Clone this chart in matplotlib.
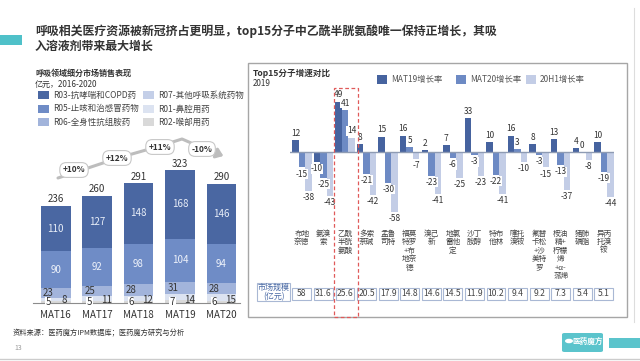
import matplotlib
matplotlib.use('Agg')
import matplotlib.pyplot as plt
import matplotlib.transforms as mtransforms
from matplotlib.patches import Rectangle, FancyBboxPatch
from matplotlib.lines import Line2D
import numpy as np

plt.rcParams['font.family'] = ['Noto Sans CJK SC', 'DejaVu Sans']
plt.rcParams['axes.unicode_minus'] = False

# 左图：呼吸领域细分市场（亿元）
periods = ['MAT16', 'MAT17', 'MAT18', 'MAT19', 'MAT20']
totals = [236, 260, 291, 323, 290]
r03 = [110, 127, 148, 168, 146]
r05 = [90, 92, 98, 104, 94]
r06 = [23, 25, 28, 31, 28]
r07 = [0, 0, 0, 0, 0]
r01 = [8, 11, 12, 14, 15]
r02 = [5, 5, 6, 7, 6]
growth = ['+10%', '+12%', '+11%', '-10%']

# 右图：Top15分子增速
molecules = ['布地\n奈德', '氨溴\n索', '乙酰\n半胱\n氨酸', '多索\n茶碱', '孟鲁\n司特',
             '福莫\n特罗\n+布\n地奈\n德', '溴己\n新', '地氯\n雷他\n定', '沙丁\n胺醇', '特布\n他林',
             '噻托\n溴铵', '氟替\n卡松\n+沙\n美特\n罗', '桉油\n精+\n柠檬\n烯\n+α-\n蒎烯',
             '猪肺\n磷脂', '异丙\n托溴\n铵']
mat19 = [12, -10, 49, 8, 15, 16, 2, 7, 33, 10, 16, 8, 13, 4, 10]
mat20 = [-15, -25, 41, -21, -30, 5, -23, -6, -3, -22, 3, -3, -13, 0, -19]
h1_20 = [-38, -43, 14, -42, -58, -7, -41, -25, -23, -41, -10, -15, -37, -8, -44]
market = ['58', '31.6', '25.6', '20.5', '17.9', '14.8', '14.6', '14.5', '11.9', '10.2',
          '9.4', '9.2', '7.3', '5.4', '5.1']

W, H = 640, 361
fig = plt.figure(figsize=(6.4, 3.61), dpi=100)
fig.patch.set_facecolor('white')


def fx(px):
    return px / W


def fy(py):
    return 1 - py / H


def frect(x0, y0, x1, y1, **kw):
    fig.add_artist(Rectangle((fx(x0), fy(y1)), (x1 - x0) / W, (y1 - y0) / H,
                             transform=fig.transFigure, **kw))


# 页面装饰
frect(0, 35, 22, 45, fc='#4fc1c9', ec='none')
fig.text(fx(35), fy(31), '呼吸相关医疗资源被新冠挤占更明显，top15分子中乙酰半胱氨酸唯一保持正增长，其吸',
         fontsize=8.6, fontweight='bold', color='#333333', va='center')
fig.text(fx(35), fy(46), '入溶液剂带来最大增长',
         fontsize=8.6, fontweight='bold', color='#333333', va='center')
fig.add_artist(Line2D([fx(634), fx(634)], [fy(8), fy(322)], transform=fig.transFigure,
                      color='#dddddd', lw=0.8))
fig.add_artist(Line2D([0, 1], [fy(359), fy(359)], transform=fig.transFigure,
                      color='#cccccc', lw=1))

# ---------------- 左图 ----------------
fig.text(fx(35), fy(73), '呼吸领域细分市场销售表现', fontsize=5.8, fontweight='bold',
         color='#333333', va='center')
fig.text(fx(35), fy(84), '亿元，2016-2020', fontsize=5.8, color='#333333', va='center')

c_r03, c_r05, c_r06, c_r07, c_r01, c_r02 = '#4a67a2', '#6f8cc6', '#a2b4db', '#c4cfe8', '#dce3f1', '#d9d9d9'
leg_items = [('R03-抗哮喘和COPD药', c_r03, 38, 95), ('R05-止咳和治感冒药物', c_r05, 38, 109),
             ('R06-全身性抗组胺药', c_r06, 38, 122), ('R07-其他呼吸系统药物', c_r07, 143, 95),
             ('R01-鼻腔用药', c_r01, 143, 109), ('R02-喉部用药', c_r02, 143, 122)]
for lab, col, lx, ly in leg_items:
    frect(lx, ly - 4, lx + 11, ly + 4, fc=col, ec='none')
    fig.text(fx(lx + 15), fy(ly), lab, fontsize=6.1, color='#444444', va='center')

ax1 = fig.add_axes([fx(32.8), fy(303), (240.1 - 32.8) / W, 164.4 / H])
x = np.arange(len(periods))
bw = 0.72
b = np.zeros(len(periods))
for vals, col in [(r02, c_r02), (r01, c_r01), (r07, c_r07), (r06, c_r06), (r05, c_r05), (r03, c_r03)]:
    ax1.bar(x, vals, bw, bottom=b, color=col, edgecolor='none')
    b = b + np.array(vals)
b2 = np.array(r02) + np.array(r01) + np.array(r07)
for i in range(len(periods)):
    ax1.text(i, b2[i] + r06[i] + r05[i] + r03[i] / 2, str(r03[i]), ha='center', va='center',
             fontsize=7, color='#e8eef8')
    ax1.text(i, b2[i] + r06[i] + r05[i] / 2, str(r05[i]), ha='center', va='center',
             fontsize=7, color='#eef2fa')
    ax1.text(i - 0.17, b2[i] + r06[i] / 2, str(r06[i]), ha='center', va='center',
             fontsize=7, color='#333333')
    ax1.text(i - 0.18, 1.5, str(r02[i]), ha='center', va='center', fontsize=7, color='#333333',
             bbox=dict(boxstyle='square,pad=0.05', fc='white', ec='none'))
    ax1.text(i + 0.22, 8, str(r01[i]), ha='center', va='center', fontsize=7, color='#333333')
    ax1.text(i, totals[i] + 4, str(totals[i]), ha='center', va='bottom', fontsize=7, color='#333333')
ax1.set_xlim(-0.55, 4.45)
ax1.set_ylim(0, 400)
ax1.set_xticks(x)
ax1.set_xticklabels(periods, fontsize=7, color='#333333')
ax1.tick_params(axis='x', length=0, pad=5)
ax1.set_yticks([])
for s in ['top', 'right', 'left']:
    ax1.spines[s].set_visible(False)
ax1.spines['bottom'].set_color('#8c8c8c')
ax1.spines['bottom'].set_linewidth(0.8)
ax1.patch.set_alpha(0)

# 增长率箭头
path = [(58, 178), (118, 158), (160, 146), (182, 139), (205, 149), (218, 154)]
fig.add_artist(Line2D([fx(p[0]) for p in path], [fy(p[1]) for p in path],
                      transform=fig.transFigure, color='#bdbdbd', lw=2.2, solid_capstyle='round'))
fig.add_artist(matplotlib.patches.FancyArrowPatch(
    (fx(212), fy(151.5)), (fx(226), fy(157)), transform=fig.transFigure,
    arrowstyle='-|>,head_length=4,head_width=3', color='#bdbdbd', lw=2.2))
for g, (gx, gy) in zip(growth, [(74, 170), (117, 158), (160, 147), (202, 149)]):
    fig.text(fx(gx), fy(gy), g, fontsize=6, fontweight='bold', color='#333333',
             ha='center', va='center',
             bbox=dict(boxstyle='round,pad=0.35,rounding_size=0.8', fc='white', ec='#c8c8c8', lw=0.8))

# ---------------- 右图 ----------------
frect(248, 63, 627, 317, fc='none', ec='#a6a6a6', lw=1)
fig.text(fx(253), fy(73), 'Top15分子增速对比', fontsize=6.2, fontweight='bold', color='#333333', va='center')
fig.text(fx(253), fy(84), '2019', fontsize=5.8, color='#333333', va='center')

c19, c20, ch1 = '#46639f', '#6d8ac4', '#c3cde6'
for lab, col, lx in [('MAT19增长率', c19, 377), ('MAT20增长率', c20, 456), ('20H1增长率', ch1, 526)]:
    frect(lx, 75, lx + 10, 84, fc=col, ec='none')
    fig.text(fx(lx + 14), fy(79.5), lab, fontsize=6, color='#555555', va='center')

ax2 = fig.add_axes([fx(290), fy(213.8), 324 / W, 118.45 / H])
xi = np.arange(len(molecules))
w = 0.3
for off, vals, col in [(-w, mat19, c19), (0, mat20, c20), (w, h1_20, ch1)]:
    ax2.bar(xi + off, vals, w, color=col, edgecolor='none', zorder=2)
    for xx, v in zip(xi + off, vals):
        ax2.annotate(str(v), (xx, v), xytext=(0, 1.5 if v >= 0 else -1.5), textcoords='offset points',
                     ha='center', va='bottom' if v >= 0 else 'top', fontsize=6, color='#333333',
                     zorder=4, bbox=dict(boxstyle='square,pad=0.05', fc='white', ec='none'))
ax2.axhline(0, color='#8e9bb3', lw=1, zorder=3)
ax2.set_xlim(-0.55, 14.47)
ax2.set_ylim(-60, 55)
ax2.set_xticks(xi)
ax2.set_xticklabels(molecules, fontsize=5.5, color='#444444', linespacing=1.08, va='top')
ax2.tick_params(axis='x', length=0, pad=11.5)
ax2.set_yticks([])
for s in ax2.spines.values():
    s.set_visible(False)
ax2.patch.set_alpha(0)

blend = mtransforms.blended_transform_factory(ax2.transData, fig.transFigure)
for i, m in enumerate(market):
    fig.add_artist(Rectangle((i - 0.44, fy(300)), 0.88, 12 / H, transform=blend,
                             fc='white', ec='#a9b8d4', lw=0.8))
    fig.text(i, fy(294), m, transform=blend, ha='center', va='center', fontsize=6.2, color='#444444')
frect(257, 283, 290, 301, fc='white', ec='#a9b8d4', lw=0.8)
fig.text(fx(273.5), fy(292), '市场规模\n(亿元)', ha='center', va='center', fontsize=5.8,
         color='#4a6aa5', linespacing=1.1)

# 乙酰半胱氨酸 红色虚线框
fig.add_artist(Rectangle((1.48, fy(317)), 1.13, (317 - 88) / H, transform=blend,
                         fc='none', ec='#e05a5a', lw=0.9, ls=(0, (3, 2))))

# 页脚
fig.text(fx(13), fy(333), '资料来源：医药魔方IPM数据库；医药魔方研究与分析', fontsize=5.2,
         color='#333333', va='center')
fig.text(fx(14), fy(348), '13', fontsize=5, color='#999999', va='center')
fig.add_artist(FancyBboxPatch((fx(562), fy(352)), 41 / W, 19 / H, transform=fig.transFigure,
                              boxstyle='round,pad=0,rounding_size=0.004', fc='#5bc4cc', ec='none'))
fig.text(fx(588), fy(341), '医药魔方', fontsize=5.5, fontweight='bold', color='white',
         ha='center', va='center')
fig.add_artist(matplotlib.patches.Circle((fx(569), fy(341)), 4 / W, transform=fig.transFigure,
                                         fc='white', ec='none'))
frect(609, 338, 640, 348, fc='#5bc4cc', ec='none')

fig.savefig('out.png', dpi=100)
